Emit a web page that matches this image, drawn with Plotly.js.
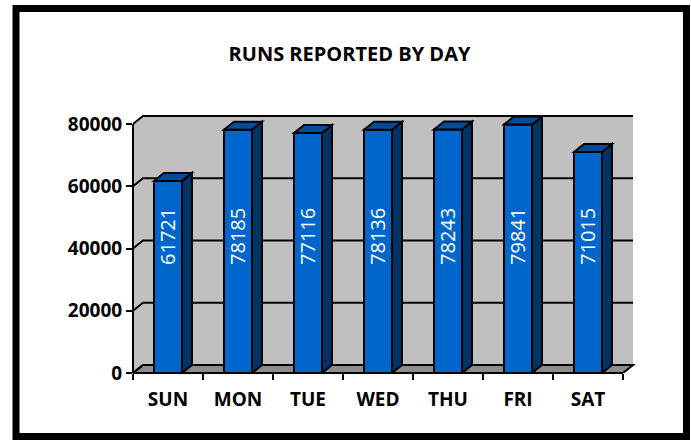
<!DOCTYPE html>
<html>
<head>
<meta charset="utf-8">
<script src="https://cdn.plot.ly/plotly-3.0.1.min.js"></script>
<style>body{margin:0;background:#fff}</style>
</head>
<body>
<div id="chart" style="width:691px;height:441px"></div>
<script>
days = ["SUN", "MON", "TUE", "WED", "THU", "FRI", "SAT"]
runs = [61721, 78185, 77116, 78136, 78243, 79841, 71015]
yTicks = [0, 20000, 40000, 60000, 80000]

// fake 3d box: depth offsets in px, turned into axis units
var pxX = 70
var pxY = 249 / 80000
var dx = 10 / pxX
var dy = 8 / pxY
var half = 0.2
var yTop = 268 / pxY
var xEnd = days.length - 0.5
var labelY = 43700

var idx = days.map(function(d, i){ return i })
var bounds = idx.map(function(i){ return i - 0.5 }).concat([xEnd])

var shapes = []
// side + back wall
shapes.push({type: "path", layer: "below", xref: "x", yref: "y",
    path: "M-0.5,0 L-0.5,80000 L" + (-0.5 + dx) + "," + (80000 + dy) + " L" + (xEnd + dx) + "," + (80000 + dy) +
          " L" + (xEnd + dx) + "," + dy + " L" + (-0.5 + dx) + "," + dy + " Z",
    fillcolor: "#C0C0C0", line: {width: 0}})
// floor
shapes.push({type: "path", layer: "below", xref: "x", yref: "y",
    path: "M-0.5,0 L" + xEnd + ",0 L" + (xEnd + dx) + "," + dy + " L" + (-0.5 + dx) + "," + dy + " Z",
    fillcolor: "#8C8C8C", line: {color: "black", width: 2}})
// gridlines on the walls
yTicks.forEach(function(k){
    shapes.push({type: "path", layer: "below", xref: "x", yref: "y",
        path: "M-0.5," + k + " L" + (-0.5 + dx) + "," + (k + dy) + " L" + (xEnd + dx) + "," + (k + dy),
        line: {color: "black", width: 2}})
})
// bar sides and tops
runs.forEach(function(v, i){
    var x0 = i - half, x1 = i + half
    shapes.push({type: "path", xref: "x", yref: "y",
        path: "M" + x1 + ",0 L" + x1 + "," + v + " L" + (x1 + dx) + "," + (v + dy) + " L" + (x1 + dx) + "," + dy + " Z",
        fillcolor: "#003366", line: {color: "black", width: 2}})
    shapes.push({type: "path", xref: "x", yref: "y",
        path: "M" + x0 + "," + v + " L" + x1 + "," + v + " L" + (x1 + dx) + "," + (v + dy) + " L" + (x0 + dx) + "," + (v + dy) + " Z",
        fillcolor: "#004C99", line: {color: "black", width: 2}})
})
// front axis lines
shapes.push({type: "line", xref: "x", yref: "paper", x0: -0.5, x1: xEnd, y0: 0, y1: 0, line: {color: "black", width: 2}})
shapes.push({type: "line", xref: "paper", yref: "y", x0: 0, x1: 0, y0: 0, y1: 80000, line: {color: "black", width: 2}})
// outer frame
function paperX(px){ return (px - 133) / 511 }
function paperY(py){ return (373 - py) / 268 }
shapes.push({type: "rect", xref: "paper", yref: "paper",
    x0: paperX(16), x1: paperX(686.5), y0: paperY(436.5), y1: paperY(8.5),
    line: {color: "black", width: 7}})

var annotations = runs.map(function(v, i){
    return {x: i, y: labelY, xref: "x", yref: "y", text: String(v), showarrow: false,
        textangle: -90, font: {family: "Open Sans", size: 20, color: "white", weight: 500}}
})

var data = [{
    type: "bar",
    x: idx,
    y: runs,
    width: 0.4,
    marker: {color: "#0066CC", line: {color: "black", width: 2}},
    hoverinfo: "skip"
}]

var tickFont = {family: "Open Sans", size: 19, color: "black", weight: "bold"}

var layout = {
    width: 691,
    height: 441,
    margin: {l: 133, r: 47, t: 105, b: 68},
    paper_bgcolor: "white",
    plot_bgcolor: "rgba(0,0,0,0)",
    showlegend: false,
    title: {text: "RUNS REPORTED BY DAY", xref: "container", yref: "container",
        x: 349.5 / 691, y: 1 - 54 / 441, xanchor: "center", yanchor: "middle",
        font: {family: "Open Sans", size: 20, color: "black", weight: "bold"}},
    xaxis: {range: [-0.5, xEnd + 0.3], tickmode: "array", tickvals: idx, ticktext: days,
        ticks: "", showgrid: false, zeroline: false, showline: false, tickfont: tickFont,
        ticklabelstandoff: 13,
        minor: {tickmode: "array", tickvals: bounds, ticks: "outside", ticklen: 6, tickwidth: 2,
            tickcolor: "black", showgrid: false},
        fixedrange: true},
    yaxis: {range: [0, yTop], tickmode: "array", tickvals: yTicks, tickformat: "d",
        ticks: "outside", ticklen: 6, tickwidth: 2, tickcolor: "black",
        showgrid: false, zeroline: false, showline: false, tickfont: tickFont, fixedrange: true},
    shapes: shapes,
    annotations: annotations
}

Plotly.newPlot("chart", data, layout, {displayModeBar: false, staticPlot: true})
</script>
</body>
</html>
